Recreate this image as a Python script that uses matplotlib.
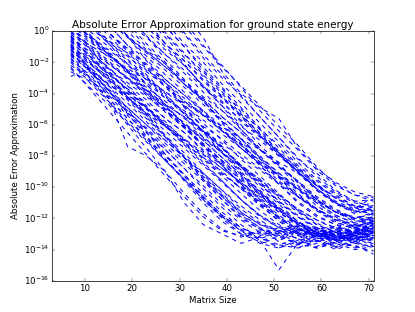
import numpy as np
import matplotlib
matplotlib.use("Agg")
import matplotlib.pyplot as plt

# matrix sizes where the error was sampled
sizes = [7, 11, 15, 19, 23, 27, 31, 35, 39, 43, 47, 51, 55, 59, 63, 67, 71]

# log10 of the absolute error, one row per run
slow_runs = [
    [9.4, 8.0, 6.6, 5.2, 3.8, 2.4, 1.0, -0.4, -2.6, -4.0, -4.9, -5.6, -7.5, -8.8, -9.7, -10.3, -10.6],
    [6.5, 5.0, 3.6, 2.2, 0.7, -0.8, -2.1, -3.6, -4.8, -6.3, -7.6, -8.7, -9.9, -10.8, -11.6, -11.9, -12.0],
    [7.5, 6.2, 4.9, 3.6, 2.3, 1.0, -0.2, -1.7, -3.0, -4.1, -5.5, -6.8, -8.2, -9.1, -10.2, -10.9, -11.3],
    [7.1, 5.8, 4.4, 3.1, 1.7, 0.3, -1.0, -2.5, -3.7, -5.2, -6.3, -7.8, -9.0, -10.2, -11.0, -11.5, -11.7],
    [5.8, 4.6, 3.3, 2.1, 0.8, -0.4, -1.7, -2.9, -4.2, -5.4, -6.7, -7.9, -9.1, -10.2, -11.1, -11.6, -11.5],
    [6.8, 5.5, 4.2, 2.9, 1.6, 0.3, -1.0, -2.3, -3.6, -4.9, -6.2, -7.5, -8.7, -9.8, -10.7, -11.3, -11.0],
    [8.0, 6.6, 5.3, 3.9, 2.6, 1.2, -0.1, -1.5, -2.8, -4.2, -5.5, -6.8, -8.1, -9.3, -10.3, -10.9, -10.8],
    [4.5, 3.3, 2.1, 0.9, -0.3, -1.5, -2.7, -3.9, -5.1, -6.3, -7.5, -8.6, -9.7, -10.7, -11.5, -12.0, -11.7],
    [3.8, 2.8, 1.7, 0.6, -0.4, -1.5, -2.5, -3.6, -4.6, -5.7, -6.7, -7.8, -8.8, -9.8, -10.7, -11.3, -11.8],
    [5.0, 3.8, 2.7, 1.5, 0.4, -0.8, -1.9, -3.1, -4.2, -5.4, -6.5, -7.7, -8.8, -9.9, -10.9, -11.4, -10.6],
    [2.5, 1.5, 0.6, -0.4, -1.3, -2.3, -3.2, -4.2, -5.1, -6.1, -7.0, -8.0, -8.9, -9.9, -10.7, -11.3, -11.6],
    [3.0, 1.9, 0.8, -0.3, -1.4, -2.5, -3.6, -4.7, -5.8, -6.9, -8.0, -9.1, -10.1, -11.0, -11.8, -12.3, -12.0],
    [-0.1, -0.9, -1.6, -2.4, -3.1, -3.9, -4.6, -5.4, -6.1, -6.9, -7.6, -8.4, -9.1, -9.9, -10.6, -11.2, -11.5],
    [1.2, 0.3, -0.7, -1.6, -2.6, -3.5, -4.5, -5.4, -6.4, -7.3, -8.3, -9.2, -10.1, -10.9, -11.6, -12.0, -11.6],
    [0.6, -0.3, -1.2, -2.1, -3.0, -3.9, -4.8, -5.7, -6.6, -7.5, -8.4, -9.3, -10.2, -11.0, -11.8, -12.3, -11.9],
    [-0.4, -1.3, -2.1, -3.0, -3.8, -4.7, -5.5, -6.4, -7.2, -8.1, -8.9, -9.8, -10.6, -11.4, -12.1, -12.5, -12.2],
    [9.0, 7.5, 6.2, 4.7, 3.4, 1.9, 0.6, -0.9, -2.2, -3.6, -5.1, -6.4, -7.6, -8.9, -9.9, -10.5, -10.7],
    [5.2, 3.9, 2.8, 1.5, 0.4, -0.8, -1.9, -3.2, -4.3, -5.5, -6.7, -7.9, -9.0, -10.1, -11.0, -11.6, -11.4],
    [6.4, 5.1, 3.8, 2.5, 1.2, -0.1, -1.4, -2.8, -4.0, -5.3, -6.6, -7.8, -9.0, -10.1, -11.0, -11.5, -11.3],
    [8.6, 7.2, 5.8, 4.4, 3.0, 1.7, 0.3, -1.0, -2.3, -3.5, -4.8, -6.1, -7.3, -8.7, -9.8, -10.5, -10.9],
    [7.3, 5.9, 4.6, 3.2, 1.9, 0.6, -0.8, -2.0, -3.4, -4.6, -5.9, -7.1, -8.4, -9.5, -10.4, -11.0, -11.2],
    [6.0, 4.8, 3.4, 2.3, 0.9, -0.2, -1.5, -2.6, -3.9, -5.0, -6.3, -7.3, -8.6, -9.6, -10.5, -11.2, -11.3],
    [2.8, 1.8, 0.8, -0.3, -1.3, -2.3, -3.4, -4.4, -5.5, -6.5, -7.6, -8.6, -9.6, -10.6, -11.4, -12.0, -12.2],
    [0.2, -0.7, -1.5, -2.5, -3.3, -4.3, -5.1, -6.1, -6.9, -7.9, -8.8, -9.7, -10.6, -11.4, -12.0, -12.4, -12.0],
    [1.9, 0.9, -0.1, -1.1, -2.1, -3.1, -4.1, -5.1, -6.1, -7.1, -8.1, -9.1, -10.0, -10.9, -11.6, -12.0, -11.7],
]

mid_runs = [
    [5.3, 3.9, 2.5, 1.0, -0.3, -1.8, -3.1, -4.4, -5.9, -7.2, -8.6, -9.8, -11.0, -11.9, -12.4, -12.6, -12.5],
    [3.9, 2.7, 1.5, 0.3, -1.0, -2.1, -3.4, -4.5, -5.8, -6.9, -8.2, -9.3, -10.6, -11.5, -12.3, -12.5, -12.2],
    [4.1, 2.6, 1.0, -0.3, -1.9, -3.3, -4.9, -6.2, -7.8, -9.1, -10.5, -11.6, -12.5, -13.0, -12.8, -13.1, -12.9],
    [2.9, 1.6, 0.4, -0.9, -2.3, -3.5, -4.8, -6.2, -7.4, -8.7, -10.0, -11.1, -12.2, -12.9, -13.1, -12.8, -12.6],
    [2.2, 1.0, -0.3, -1.5, -2.8, -4.0, -5.3, -6.5, -7.8, -9.0, -10.3, -11.4, -12.4, -13.0, -13.2, -13.0, -12.7],
    [1.4, 0.3, -0.8, -1.9, -3.0, -4.2, -5.3, -6.4, -7.5, -8.6, -9.7, -10.9, -11.8, -12.6, -13.1, -13.3, -13.0],
    [0.9, -0.3, -1.5, -2.6, -3.8, -5.0, -6.1, -7.3, -8.4, -9.6, -10.8, -11.9, -12.7, -13.2, -13.0, -13.4, -13.1],
    [0.5, -0.5, -1.5, -2.5, -3.6, -4.5, -5.6, -6.5, -7.5, -8.6, -9.5, -10.5, -11.4, -12.1, -12.6, -12.9, -12.4],
    [0.2, -0.9, -1.9, -3.0, -4.0, -5.1, -6.2, -7.2, -8.3, -9.3, -10.4, -11.3, -12.2, -12.9, -13.3, -13.1, -13.4],
    [-0.2, -1.1, -2.1, -3.0, -4.0, -4.9, -5.9, -6.8, -7.8, -8.7, -9.7, -10.6, -11.5, -12.3, -12.9, -13.0, -12.7],
    [-0.5, -1.6, -2.7, -3.8, -4.9, -6.0, -7.1, -8.2, -9.3, -10.4, -11.5, -12.4, -13.0, -13.3, -13.1, -13.4, -12.9],
    [-0.6, -1.5, -2.4, -3.3, -4.2, -5.1, -6.0, -6.9, -7.8, -8.7, -9.6, -10.5, -11.4, -12.1, -12.7, -12.9, -12.3],
    [-1.0, -2.1, -2.9, -4.1, -4.9, -6.1, -6.9, -8.1, -9.0, -10.1, -10.9, -12.0, -12.7, -13.1, -13.4, -13.0, -13.2],
    [-1.2, -2.1, -3.1, -4.0, -5.0, -5.9, -6.9, -7.8, -8.8, -9.7, -10.7, -11.6, -12.4, -12.9, -13.2, -13.0, -12.6],
    [2.0, 1.0, -0.1, -1.2, -2.2, -3.3, -4.3, -5.4, -6.4, -7.5, -8.5, -9.6, -10.5, -11.4, -12.1, -12.4, -12.1],
    [1.8, 0.5, -0.8, -2.1, -3.4, -4.7, -6.0, -7.3, -8.6, -9.9, -11.1, -12.2, -12.9, -13.2, -13.5, -13.1, -13.3],
    [1.0, -0.2, -1.4, -2.6, -3.8, -5.0, -6.2, -7.4, -8.6, -9.8, -11.0, -12.0, -12.8, -13.0, -13.3, -12.9, -13.1],
    [-1.6, -2.5, -3.4, -4.3, -5.2, -6.1, -7.0, -7.9, -8.8, -9.7, -10.6, -11.5, -12.3, -12.9, -13.2, -13.0, -12.8],
    [-1.8, -2.8, -3.9, -4.9, -6.0, -7.0, -8.1, -9.1, -10.2, -11.2, -12.1, -12.9, -13.3, -13.5, -13.2, -13.6, -13.0],
    [1.5, 0.6, -0.6, -1.4, -2.5, -3.3, -4.5, -5.3, -6.4, -7.2, -8.4, -9.3, -10.1, -11.2, -11.9, -12.6, -12.3],
    [0.8, -0.4, -1.3, -2.6, -3.4, -4.7, -5.5, -6.8, -7.7, -8.9, -9.8, -11.0, -11.9, -12.7, -13.0, -12.8, -12.4],
    [2.6, 1.3, 0.4, -0.9, -1.8, -3.1, -4.1, -5.2, -6.3, -7.3, -8.5, -9.4, -10.6, -11.5, -12.2, -12.7, -12.5],
    [3.4, 2.3, 1.0, 0.0, -1.2, -2.1, -3.4, -4.3, -5.5, -6.5, -7.6, -8.7, -9.6, -10.8, -11.6, -12.2, -12.0],
    [4.8, 3.5, 2.4, 1.1, 0.0, -1.2, -2.2, -3.5, -4.5, -5.8, -6.8, -8.0, -9.0, -10.1, -11.0, -11.7, -11.4],
    [-0.3, -1.4, -2.3, -3.5, -4.4, -5.6, -6.5, -7.7, -8.6, -9.8, -10.8, -11.8, -12.6, -13.2, -12.9, -13.3, -13.6],
    [-0.7, -1.7, -2.8, -3.7, -4.9, -5.8, -7.0, -7.9, -9.1, -10.1, -11.2, -12.1, -12.9, -13.1, -12.7, -13.0, -12.6],
    [-1.0, -1.8, -2.7, -3.7, -4.6, -5.6, -6.5, -7.6, -8.5, -9.5, -10.5, -11.4, -12.4, -12.9, -13.4, -13.1, -12.8],
    [0.4, -0.6, -1.7, -2.7, -3.9, -4.8, -6.0, -7.0, -8.1, -9.2, -10.2, -11.3, -12.2, -12.8, -13.1, -13.6, -13.2],
    [1.1, 0.0, -1.0, -2.2, -3.1, -4.3, -5.3, -6.4, -7.4, -8.6, -9.5, -10.7, -11.6, -12.4, -12.9, -12.6, -12.1],
    [-1.5, -2.3, -3.4, -4.2, -5.3, -6.1, -7.2, -8.1, -9.2, -10.0, -11.1, -11.9, -12.7, -13.2, -13.0, -13.5, -13.2],
    [2.2, 1.0, -0.1, -1.3, -2.4, -3.6, -4.7, -5.9, -7.0, -8.2, -9.3, -10.4, -11.5, -12.4, -12.9, -13.2, -12.8],
    [3.2, 2.0, 0.8, -0.4, -1.6, -2.8, -3.9, -5.1, -6.3, -7.5, -8.6, -9.8, -10.9, -11.8, -12.4, -12.9, -12.7],
    [4.2, 3.0, 1.7, 0.5, -0.8, -2.0, -3.2, -4.5, -5.7, -6.9, -8.1, -9.3, -10.4, -11.4, -12.1, -12.5, -12.3],
    [5.5, 4.1, 2.9, 1.6, 0.3, -1.0, -2.2, -3.5, -4.8, -6.0, -7.3, -8.5, -9.7, -10.8, -11.6, -12.1, -11.9],
    [0.0, -1.0, -2.0, -3.1, -4.1, -5.2, -6.2, -7.3, -8.3, -9.4, -10.4, -11.5, -12.3, -12.9, -13.4, -13.1, -13.5],
    [1.6, 0.4, -0.6, -1.8, -2.9, -4.1, -5.2, -6.4, -7.5, -8.7, -9.8, -10.9, -11.9, -12.6, -13.0, -12.7, -13.1],
    [0.7, -0.4, -1.5, -2.6, -3.7, -4.8, -5.9, -7.0, -8.1, -9.2, -10.3, -11.4, -12.3, -12.7, -12.5, -12.9, -12.6],
]

fast_runs = [
    [0.0, -1.2, -2.4, -3.5, -4.8, -6.0, -7.2, -8.4, -9.6, -10.8, -11.9, -12.6, -12.9, -13.2, -12.7, -13.1, -12.8],
    [-0.3, -1.6, -2.9, -4.2, -5.5, -6.8, -8.1, -9.4, -10.6, -11.8, -12.6, -13.0, -13.7, -13.1, -13.9, -13.3, -12.9],
    [-0.8, -2.0, -3.2, -4.4, -5.6, -6.8, -8.0, -9.2, -10.4, -11.6, -12.4, -12.9, -12.6, -13.0, -12.5, -12.9, -12.2],
    [-1.1, -2.5, -3.8, -5.2, -6.5, -7.9, -9.2, -10.6, -11.8, -12.6, -13.1, -12.8, -13.3, -12.9, -13.4, -12.8, -12.5],
    [-1.4, -2.6, -3.7, -4.9, -6.0, -7.2, -8.3, -9.5, -10.6, -11.7, -12.6, -13.5, -13.9, -13.4, -14.0, -13.6, -13.8],
    [-1.5, -3.0, -4.5, -6.0, -7.5, -9.0, -10.4, -11.7, -12.7, -13.2, -12.9, -13.4, -13.0, -12.6, -13.1, -12.7, -12.3],
    [-1.0, -2.5, -4.2, -7.4, -8.0, -9.0, -11.0, -12.4, -13.0, -13.6, -13.2, -13.9, -13.4, -13.0, -13.5, -13.1, -13.4],
    [-2.9, -2.4, -3.5, -5.0, -6.4, -7.9, -9.3, -10.7, -11.9, -12.8, -13.0, -12.6, -13.1, -13.5, -12.9, -13.3, -12.8],
    [-2.0, -3.3, -4.5, -5.8, -7.0, -8.3, -9.5, -10.8, -11.9, -12.8, -13.6, -13.9, -13.5, -13.8, -13.2, -13.9, -13.6],
    [-2.3, -3.7, -5.1, -6.5, -7.9, -9.3, -10.6, -11.9, -12.8, -13.1, -12.8, -13.2, -12.7, -13.0, -13.4, -12.9, -12.6],
    [0.3, -1.1, -2.5, -3.9, -5.3, -6.7, -8.1, -9.5, -10.8, -12.0, -12.7, -13.0, -12.6, -13.1, -12.8, -12.4, -12.7],
    [-0.9, -2.4, -3.8, -5.3, -6.7, -8.2, -9.6, -11.0, -12.2, -13.0, -13.3, -12.9, -13.6, -13.1, -13.4, -12.9, -12.6],
    [-2.6, -3.2, -4.3, -5.6, -6.8, -8.0, -9.2, -10.4, -11.6, -12.6, -13.2, -13.7, -13.3, -13.9, -13.6, -13.2, -13.8],
    [-1.3, -2.6, -3.8, -5.1, -6.3, -7.6, -8.8, -10.1, -11.3, -12.4, -13.4, -15.3, -13.6, -13.4, -13.8, -13.5, -13.9],
    [-1.7, -3.0, -4.3, -5.6, -6.9, -8.2, -9.5, -10.8, -12.0, -13.0, -13.5, -13.7, -13.9, -13.6, -13.8, -13.7, -14.3],
    [-0.6, -1.9, -3.0, -4.3, -5.4, -6.7, -7.8, -9.1, -10.2, -11.4, -12.3, -12.8, -13.1, -12.7, -13.2, -13.5, -12.9],
    [-2.2, -2.9, -4.0, -5.2, -6.2, -7.4, -8.5, -9.6, -10.8, -11.9, -12.7, -13.1, -12.7, -13.0, -13.6, -13.1, -12.7],
    [-1.9, -3.1, -4.1, -5.4, -6.5, -7.6, -8.8, -9.9, -11.1, -12.1, -12.9, -13.1, -13.7, -13.3, -13.6, -14.0, -13.8],
    [-1.2, -2.3, -3.5, -4.6, -5.8, -7.0, -8.1, -9.3, -10.5, -11.6, -12.4, -12.8, -12.5, -12.9, -12.6, -12.9, -12.4],
    [-0.4, -1.6, -2.6, -3.8, -5.0, -6.1, -7.3, -8.5, -9.6, -10.8, -11.8, -12.6, -13.0, -12.7, -13.1, -13.4, -12.8],
    [-2.4, -3.6, -4.7, -5.9, -7.1, -8.3, -9.5, -10.6, -11.8, -12.7, -13.4, -13.2, -13.6, -13.9, -13.5, -13.8, -14.1],
    [-0.9, -2.0, -3.1, -4.2, -5.3, -6.4, -7.5, -8.6, -9.7, -10.8, -11.8, -12.5, -13.0, -13.3, -12.9, -12.6, -13.0],
]

plt.style.use("classic")
fig = plt.figure(figsize=(8, 6.015), dpi=51.875, facecolor="white")
ax = fig.add_subplot(111)

for run in slow_runs + mid_runs + fast_runs:
    ax.semilogy(sizes, 10.0 ** np.array(run), "b--", lw=1.4)

ax.set_xlim(3, 71)
ax.set_ylim(1e-16, 1e0)
ax.set_yticks([10.0 ** -k for k in range(0, 17, 2)])
ax.minorticks_off()
ax.set_title("Absolute Error Approximation for ground state energy")
ax.set_xlabel("Matrix Size")
ax.set_ylabel("Absolute Error Approximation")

fig.savefig("out.png", dpi=51.875, facecolor="white")
